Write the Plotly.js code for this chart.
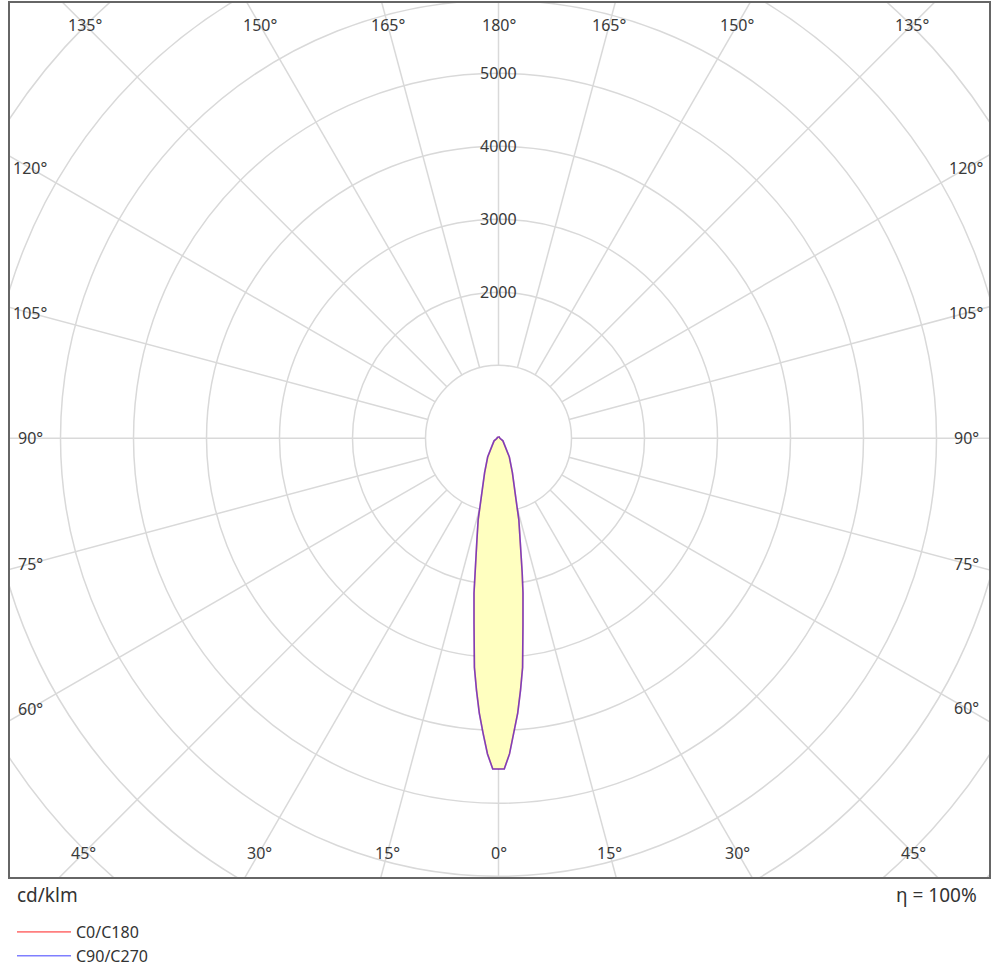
<!DOCTYPE html>
<html><head><meta charset="utf-8">
<script src="https://cdn.plot.ly/plotly-3.0.1.min.js"></script>
<style>html,body{margin:0;padding:0;background:#fff;}#chart{width:1000px;height:970px;}</style>
</head><body><div id="chart"></div>
<script>
// ---- data (cd/klm) ----
const gammaDeg = [0, 1, 2, 3, 4, 5, 6, 7.5, 9, 10, 12, 14, 16, 18, 22, 30, 40, 60, 90, 120, 150, 180];
const intensityC0C180 = [4530, 4530, 4326, 4044, 3773, 3462, 3157, 2570, 2145, 1867, 1422, 1153, 868, 697, 508, 297, 140, 70, 20, 20, 20, 20];
const intensityC90C270 = [4530, 4530, 4326, 4044, 3773, 3462, 3157, 2570, 2145, 1867, 1422, 1153, 868, 697, 508, 297, 140, 70, 20, 20, 20, 20];
const seriesNames = ['C0/C180', 'C90/C270'];
const ringValues = [1000, 2000, 3000, 4000, 5000, 6000, 7000, 8000, 9000];
const ringLabelValues = [2000, 3000, 4000, 5000];
const spokeAngles = [0, 15, 30, 45, 60, 75, 90, 105, 120, 135, 150, 165, 180, 195, 210, 225, 240, 255, 270, 285, 300, 315, 330, 345];
const angleLabelValues = [0, 15, 30, 45, 60, 75, 90, 105, 120, 135, 150, 165, 180];
const unitLabel = 'cd/klm';
const efficiencyLabel = 'η = 100%';

// ---- layout geometry ----
const S = 0.073;            // px per cd/klm
const W = 1000, H = 970;
const plotL = 10, plotR = 989, plotT = 3, plotB = 877;
const cx = 498.5, cy = 438.3;
const xr = [-(cx - plotL) / S, (plotR - cx) / S];
const yr = [-(plotB - cy) / S, (cy - plotT) / S];
const rad = d => d * Math.PI / 180;
const FONT = 'Noto Sans, DejaVu Sans, sans-serif';
const gridColor = '#d9d9d9';

function closedCurve(vals) {
  const x = [], y = [];
  for (let i = gammaDeg.length - 1; i >= 0; i--) {
    x.push(-vals[i] * Math.sin(rad(gammaDeg[i])));
    y.push(-vals[i] * Math.cos(rad(gammaDeg[i])));
  }
  for (let i = 1; i < gammaDeg.length; i++) {
    x.push(vals[i] * Math.sin(rad(gammaDeg[i])));
    y.push(-vals[i] * Math.cos(rad(gammaDeg[i])));
  }
  return {x, y};
}

const c0 = closedCurve(intensityC0C180);
const c90 = closedCurve(intensityC90C270);

const traces = [
  {x: c0.x, y: c0.y, type: 'scatter', mode: 'lines', fill: 'toself', fillcolor: '#ffffc0',
   line: {width: 0, color: 'rgba(0,0,0,0)'}, showlegend: false, hoverinfo: 'skip'},
  {x: c0.x, y: c0.y, type: 'scatter', mode: 'lines', name: seriesNames[0],
   line: {color: 'rgba(255,0,0,0.5)', width: 1.6}},
  {x: c90.x, y: c90.y, type: 'scatter', mode: 'lines', name: seriesNames[1],
   line: {color: 'rgba(0,0,255,0.5)', width: 1.6}}
];

const shapes = [];
ringValues.forEach(r => shapes.push({type: 'circle', xref: 'x', yref: 'y', x0: -r, x1: r, y0: -r, y1: r,
  line: {color: gridColor, width: 1.5}, layer: 'below'}));
spokeAngles.forEach(a => shapes.push({type: 'line', xref: 'x', yref: 'y',
  x0: ringValues[0] * Math.sin(rad(a)), y0: -ringValues[0] * Math.cos(rad(a)),
  x1: 12000 * Math.sin(rad(a)), y1: -12000 * Math.cos(rad(a)),
  line: {color: gridColor, width: 1.5}, layer: 'below'}));

// label inset rectangle (data units)
const inL = -(cx - 30) / S, inR = (966 - cx) / S, inB = -(853 - cy) / S, inT = (cy - 25) / S;
function edgePoint(dx, dy) {
  let t = Infinity;
  if (dx > 1e-9) t = Math.min(t, inR / dx);
  if (dx < -1e-9) t = Math.min(t, inL / dx);
  if (dy > 1e-9) t = Math.min(t, inT / dy);
  if (dy < -1e-9) t = Math.min(t, inB / dy);
  return [dx * t, dy * t];
}
const annotations = [];
const labelFont = {family: FONT, size: 16, color: '#3a3a3a'};
angleLabelValues.forEach(a => {
  const sides = (a === 0 || a === 180) ? [1] : [1, -1];
  sides.forEach(s => {
    const p = edgePoint(s * Math.sin(rad(a)), -Math.cos(rad(a)));
    annotations.push({x: p[0], y: p[1], xref: 'x', yref: 'y', text: a + '°', showarrow: false,
      xanchor: 'center', yanchor: 'middle', font: labelFont});
  });
});
ringLabelValues.forEach(v => annotations.push({x: 0, y: v, xref: 'x', yref: 'y', text: String(v),
  showarrow: false, xanchor: 'center', yanchor: 'middle', font: labelFont}));
const pw = plotR - plotL, ph = plotB - plotT;
annotations.push({xref: 'paper', yref: 'paper', x: (15 - plotL) / pw, y: -(895 - plotB) / ph,
  xanchor: 'left', yanchor: 'middle', text: unitLabel, showarrow: false,
  font: {family: FONT, size: 19, color: '#333'}});
annotations.push({xref: 'paper', yref: 'paper', x: (979 - plotL) / pw, y: -(895 - plotB) / ph,
  xanchor: 'right', yanchor: 'middle', text: efficiencyLabel, showarrow: false,
  font: {family: FONT, size: 19, color: '#333'}});

const axisCommon = {showgrid: false, zeroline: false, showticklabels: false, ticks: '',
  showline: true, mirror: true, linecolor: '#666', linewidth: 2, fixedrange: true};

const layout = {
  width: W, height: H,
  margin: {l: plotL, r: W - plotR, t: plotT, b: H - plotB, pad: 0, autoexpand: false},
  paper_bgcolor: '#fff', plot_bgcolor: '#fff',
  xaxis: Object.assign({range: xr}, axisCommon),
  yaxis: Object.assign({range: yr}, axisCommon),
  shapes: shapes,
  annotations: annotations,
  showlegend: true,
  legend: {x: (12 - plotL) / pw, xanchor: 'left', y: -(915 - plotB) / ph, yanchor: 'top',
    orientation: 'v', font: {family: FONT, size: 16, color: '#333'}, itemwidth: 54,
    bgcolor: 'rgba(0,0,0,0)', tracegroupgap: 0},
  hovermode: false
};

Plotly.newPlot('chart', traces, layout, {displayModeBar: false, staticPlot: true});
</script>
</body></html>
